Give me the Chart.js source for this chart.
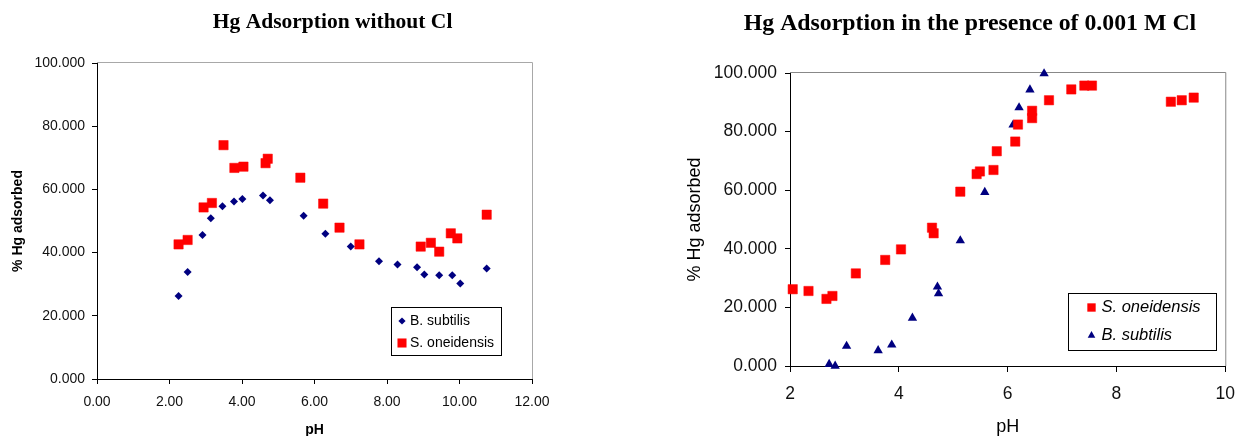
<!DOCTYPE html>
<html>
<head>
<meta charset="utf-8">
<script src="https://cdn.jsdelivr.net/npm/chart.js@4.4.0/dist/chart.umd.min.js"></script>
<style>
  html, body { margin: 0; padding: 0; background: #fff; overflow: hidden; }
  .wrap { position: absolute; top: 0; }
  #left { left: 0; }
  #right { left: 670px; }
</style>
</head>
<body>
<div class="wrap" id="left"><canvas id="chartNoCl" width="640" height="440"></canvas></div>
<div class="wrap" id="right"><canvas id="chartCl" width="577" height="440"></canvas></div>
<script>
// --- data ---
// left: without Cl
const bsPhNoCl = [2.25, 2.50, 2.91, 3.14, 3.46, 3.78, 4.01, 4.58, 4.77, 5.70, 6.30, 7.00, 7.78, 8.29, 8.83, 9.03, 9.44, 9.80, 10.02, 10.75];
const bsHgNoCl = [26.3, 33.9, 45.6, 50.9, 54.7, 56.2, 57.0, 58.1, 56.6, 51.7, 46.0, 41.9, 37.3, 36.2, 35.4, 33.1, 32.8, 32.8, 30.2, 35.0];
const soPhNoCl = [2.25, 2.50, 2.94, 3.17, 3.49, 3.79, 4.04, 4.65, 4.71, 5.61, 6.24, 6.69, 7.24, 8.93, 9.21, 9.44, 9.76, 9.94, 10.75];
const soHgNoCl = [42.6, 44.0, 54.3, 55.7, 74.0, 66.8, 67.2, 68.3, 69.7, 63.7, 55.5, 47.9, 42.6, 41.9, 43.1, 40.3, 46.1, 44.5, 52.0];

// right: 0.001 M Cl
const soPhCl = [2.05, 2.34, 2.67, 2.78, 3.21, 3.75, 4.04, 4.61, 4.64, 5.13, 5.43, 5.49, 5.74, 5.80, 6.14, 6.19, 6.45, 6.45, 6.76, 7.17, 7.41, 7.55, 9.00, 9.20, 9.42];
const soHgCl = [26.2, 25.6, 22.9, 23.9, 31.6, 36.2, 39.8, 47.2, 45.3, 59.5, 65.5, 66.4, 66.9, 73.3, 76.6, 82.4, 87.1, 84.6, 90.7, 94.4, 95.7, 95.7, 90.2, 90.7, 91.6];
const bsPhCl = [2.72, 2.83, 3.04, 3.62, 3.87, 4.25, 4.71, 4.73, 5.13, 5.58, 6.10, 6.21, 6.41, 6.67];
const bsHgCl = [0.6, 0.0, 6.8, 5.3, 7.2, 16.4, 27.0, 24.7, 42.8, 59.3, 82.3, 88.2, 94.3, 99.8];

const seriesNames = ['B. subtilis', 'S. oneidensis'];
const titles = ['Hg Adsorption without Cl', 'Hg Adsorption in the presence of 0.001 M Cl'];

const SANS = 'Arial, "Liberation Sans", sans-serif';
const SERIF = '"Times New Roman", "Liberation Serif", serif';
const NAVY = '#000080';
const RED = '#ff0000';

const toPoints = (xs, ys) => xs.map((x, i) => ({ x, y: ys[i] }));

// title, plot frame (top/right) and boxed legend
const decor = {
  id: 'decor',
  beforeDatasetsDraw(chart, args, o) {
    const { ctx, chartArea: a } = chart;
    ctx.save();
    ctx.strokeStyle = o.frameColor;
    ctx.lineWidth = 1;
    ctx.beginPath();
    ctx.moveTo(a.left, a.top - 0.5);
    ctx.lineTo(a.right + 0.5, a.top - 0.5);
    ctx.lineTo(a.right + 0.5, a.bottom);
    ctx.stroke();
    ctx.restore();
  },
  afterDraw(chart, args, o) {
    const ctx = chart.ctx;
    ctx.save();
    ctx.fillStyle = '#000';
    ctx.font = o.titleFont;
    ctx.textAlign = 'center';
    ctx.textBaseline = 'alphabetic';
    ctx.fillText(o.title, o.titleX, o.titleY);

    const L = o.legend;
    ctx.fillStyle = '#fff';
    ctx.fillRect(L.x, L.y, L.w, L.h);
    ctx.strokeStyle = '#000';
    ctx.lineWidth = 1;
    ctx.strokeRect(L.x + 0.5, L.y + 0.5, L.w, L.h);
    ctx.font = L.font;
    ctx.textAlign = 'left';
    ctx.textBaseline = 'middle';
    chart.data.datasets.forEach((ds, i) => {
      const cy = L.rowY[i];
      ctx.fillStyle = ds.backgroundColor;
      ctx.strokeStyle = ds.borderColor;
      Chart.helpers.drawPoint(ctx, { pointStyle: ds.pointStyle, radius: L.markerRadius[i], borderWidth: 0, rotation: 0 }, L.markerX, cy);
      ctx.fillStyle = '#000';
      ctx.fillText(ds.label, L.textX, cy);
    });
    ctx.restore();
  }
};

function axis(opts) {
  return {
    type: 'linear',
    min: opts.min,
    max: opts.max,
    afterFit: opts.fit,
    border: { display: true, color: '#000', width: 1 },
    grid: { drawOnChartArea: false, drawTicks: true, tickLength: opts.tickLength, tickColor: '#000' },
    ticks: {
      stepSize: opts.step, padding: opts.pad, color: '#111', autoSkip: false, maxRotation: 0,
      font: { family: SANS, size: opts.size },
      callback: opts.fmt
    },
    title: {
      display: true, text: opts.title, color: '#000',
      font: { family: SANS, size: opts.titleSize, weight: opts.titleWeight },
      padding: opts.titlePad
    }
  };
}

// left chart
new Chart(document.getElementById('chartNoCl'), {
  type: 'scatter',
  data: {
    datasets: [
      {
        label: seriesNames[0],
        data: toPoints(bsPhNoCl, bsHgNoCl),
        pointStyle: 'rectRot', pointRadius: 4, borderWidth: 0,
        backgroundColor: NAVY, borderColor: NAVY, clip: false
      },
      {
        label: seriesNames[1],
        data: toPoints(soPhNoCl, soHgNoCl),
        pointStyle: 'rect', pointRadius: 6.6, borderWidth: 0.5,
        backgroundColor: RED, borderColor: RED, clip: false
      }
    ]
  },
  options: {
    responsive: false,
    animation: false,
    layout: { padding: { top: 63, right: 108, bottom: 0, left: 0 } },
    scales: {
      x: axis({ min: 0, max: 12, step: 2, pad: 10, size: 14, tickLength: 5, fmt: v => v.toFixed(2),
        fit: s => { s.height = 61; }, title: 'pH', titleSize: 14, titleWeight: 'bold', titlePad: { top: 0, bottom: 1 } }),
      y: axis({ min: 0, max: 100, step: 20, pad: 7, size: 14, tickLength: 5, fmt: v => v.toFixed(3),
        fit: s => { s.width = 97; }, title: '% Hg adsorbed', titleSize: 14, titleWeight: 'bold', titlePad: { top: 10, bottom: 0 } })
    },
    plugins: {
      legend: { display: false },
      title: { display: false },
      tooltip: { enabled: false },
      decor: {
        title: titles[0], titleX: 332.6, titleY: 28,
        titleFont: 'bold 21.5px ' + SERIF,
        frameColor: '#a8a8a8',
        legend: { x: 391, y: 307, w: 110, h: 48, font: '14px ' + SANS,
          markerX: 402, textX: 410, rowY: [321, 343], markerRadius: [3.6, 6.4] }
      }
    }
  },
  plugins: [decor]
});

// right chart
new Chart(document.getElementById('chartCl'), {
  type: 'scatter',
  data: {
    datasets: [
      {
        label: seriesNames[1],
        data: toPoints(soPhCl, soHgCl),
        pointStyle: 'rect', pointRadius: 6.6, borderWidth: 0.5,
        backgroundColor: RED, borderColor: RED, clip: false
      },
      {
        label: seriesNames[0],
        data: toPoints(bsPhCl, bsHgCl),
        pointStyle: 'triangle', pointRadius: 5.4, borderWidth: 0,
        backgroundColor: NAVY, borderColor: NAVY, clip: false
      }
    ]
  },
  options: {
    responsive: false,
    animation: false,
    layout: { padding: { top: 73, right: 10, bottom: 0, left: 0 } },
    scales: {
      x: axis({ min: 2, max: 10, step: 2, pad: 12, size: 17.5, tickLength: 6, fmt: v => String(v),
        fit: s => { s.height = 74; }, title: 'pH', titleSize: 18, titleWeight: 'normal', titlePad: { top: 0, bottom: 2 } }),
      y: axis({ min: 0, max: 100, step: 20, pad: 8, size: 17.5, tickLength: 5, fmt: v => v.toFixed(3),
        fit: s => { s.width = 120; }, title: '% Hg adsorbed', titleSize: 18, titleWeight: 'normal', titlePad: { top: 14, bottom: 0 } })
    },
    plugins: {
      legend: { display: false },
      title: { display: false },
      tooltip: { enabled: false },
      decor: {
        title: titles[1], titleX: 300, titleY: 30,
        titleFont: 'bold 23.8px ' + SERIF,
        frameColor: '#888888',
        legend: { x: 398, y: 293, w: 148, h: 57, font: 'italic 16.5px ' + SANS,
          markerX: 421.5, textX: 431.5, rowY: [307.5, 335.5], markerRadius: [5.9, 4.4] }
      }
    }
  },
  plugins: [decor]
});
</script>
</body>
</html>
